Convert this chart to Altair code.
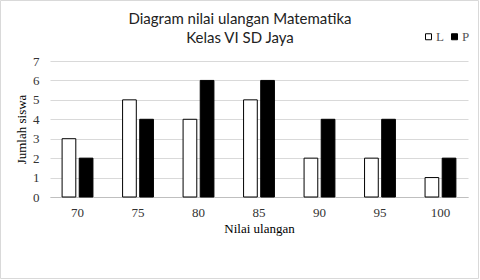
import altair as alt
import pandas as pd

nilai = ["70", "75", "80", "85", "90", "95", "100"]
laki = [3, 5, 4, 5, 2, 2, 1]
perempuan = [2, 4, 6, 6, 4, 4, 2]

rows = []
for n, l, p in zip(nilai, laki, perempuan):
    rows.append({"nilai": n, "jenis": "L", "jumlah": l})
    rows.append({"nilai": n, "jenis": "P", "jumlah": p})
df = pd.DataFrame(rows)

serif = "Liberation Serif"

bars = alt.Chart(df).mark_bar(stroke="black", strokeWidth=1).encode(
    x=alt.X("nilai:N", sort=nilai, title="Nilai ulangan",
            scale=alt.Scale(paddingInner=0.49),
            axis=alt.Axis(labelAngle=0, ticks=False, domainColor="#bfbfbf",
                          labelPadding=9, titlePadding=3, labelFont=serif,
                          titleFont=serif, labelFontSize=13, titleFontSize=13,
                          titleFontWeight="normal", labelColor="#333333",
                          titleColor="#000000")),
    xOffset=alt.XOffset("jenis:N", scale=alt.Scale(paddingInner=0.2)),
    y=alt.Y("jumlah:Q", title="Jumlah siswa",
            scale=alt.Scale(domain=[0, 7]),
            axis=alt.Axis(values=list(range(8)), ticks=False, domain=False,
                          gridColor="#d9d9d9", labelPadding=11, titlePadding=4,
                          labelFont=serif, titleFont=serif, labelFontSize=13,
                          titleFontSize=13, titleFontWeight="normal",
                          labelColor="#333333", titleColor="#000000")),
    color=alt.Color("jenis:N", scale=alt.Scale(domain=["L", "P"], range=["white", "black"]),
                    legend=alt.Legend(title=None, orient="none", legendX=372, legendY=-31,
                                      direction="horizontal", symbolType="square",
                                      symbolSize=36, symbolStrokeColor="black",
                                      symbolStrokeWidth=1, labelFont=serif,
                                      labelFontSize=13, labelColor="#555555",
                                      columnPadding=4, labelOffset=1)),
)

border = alt.Chart(pd.DataFrame({"a": [0]})).mark_rect(
    fill=None, stroke="#d9d9d9", strokeWidth=1
).encode(x=alt.value(-49.5), x2=alt.value(428.5), y=alt.value(-60.5), y2=alt.value(217.5))

chart = alt.layer(bars, border).properties(
    width=418, height=136,
    autosize=alt.AutoSizeParams(type="none"),
    padding={"left": 50, "top": 61, "right": 12, "bottom": 83},
    title=alt.Title(["Diagram nilai ulangan Matematika", "Kelas VI SD Jaya"],
                    font="Lato", fontSize=15, fontWeight="normal", color="#222222",
                    anchor="middle", dx=-19, offset=0, dy=46, lineHeight=19),
).configure_view(stroke=None)

chart.save("out.html", embed_options={"renderer": "svg", "actions": False})
